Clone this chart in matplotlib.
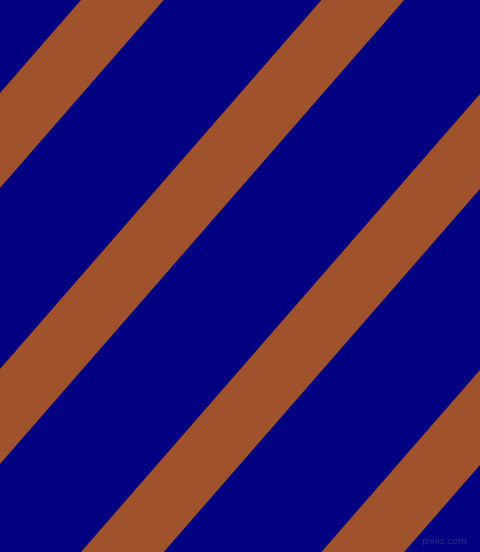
import numpy as np
import matplotlib
matplotlib.use("Agg")
import matplotlib.pyplot as plt

# stripes are bands between lines y = c - slope * x (pixel space, y down)
stripe_starts = [93, 369, 645, 921]
stripe_width = 95
slope = 1.148

bg_color = "#000080"
stripe_color = "#A0522D"

W, H = 480, 552
fig = plt.figure(figsize=(W / 100, H / 100), dpi=100)
fig.patch.set_facecolor(bg_color)
ax = fig.add_axes([0, 0, 1, 1])
ax.set_facecolor(bg_color)
ax.set_xlim(0, W)
ax.set_ylim(H, 0)
ax.axis("off")

x = np.array([0, W])
for c in stripe_starts:
    ax.fill_between(x, c - slope * x, c + stripe_width - slope * x,
                    color=stripe_color, linewidth=0, antialiased=True)

ax.text(467, 542, "pixlis.com", color="#2a2a8c", fontsize=6.5,
        ha="right", va="center")

fig.savefig("out.png", dpi=100, facecolor=bg_color)
